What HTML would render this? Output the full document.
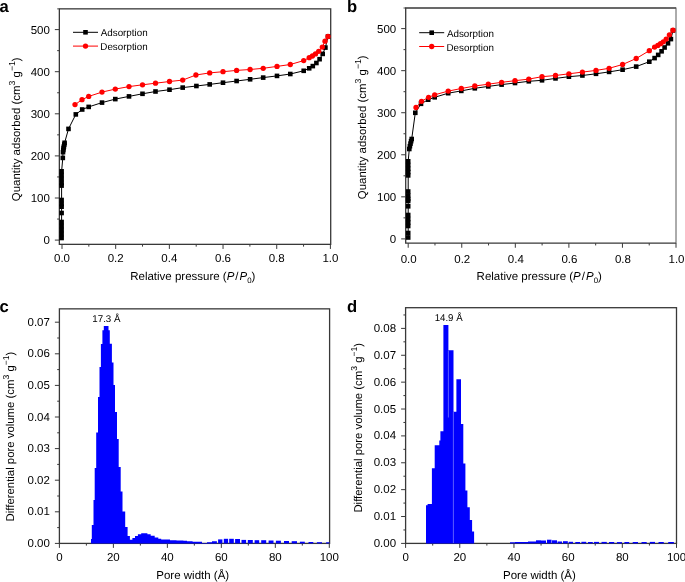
<!DOCTYPE html>
<html><head><meta charset="utf-8"><style>
html,body{margin:0;padding:0;background:#fff;}
svg{display:block;will-change:transform;}
</style></head><body>
<svg width="685" height="582" viewBox="0 0 685 582" font-family='"Liberation Sans", sans-serif' fill="#000" text-rendering="geometricPrecision"><rect width="685" height="582" fill="#fff"/><line x1="62" y1="244.35" x2="62" y2="248.95" stroke="#383838" stroke-width="1.0"/><text x="62" y="262.15" font-size="11.5" text-anchor="middle">0.0</text><line x1="88.84" y1="244.35" x2="88.84" y2="246.65" stroke="#383838" stroke-width="1.0"/><line x1="115.68" y1="244.35" x2="115.68" y2="248.95" stroke="#383838" stroke-width="1.0"/><text x="115.68" y="262.15" font-size="11.5" text-anchor="middle">0.2</text><line x1="142.52" y1="244.35" x2="142.52" y2="246.65" stroke="#383838" stroke-width="1.0"/><line x1="169.36" y1="244.35" x2="169.36" y2="248.95" stroke="#383838" stroke-width="1.0"/><text x="169.36" y="262.15" font-size="11.5" text-anchor="middle">0.4</text><line x1="196.2" y1="244.35" x2="196.2" y2="246.65" stroke="#383838" stroke-width="1.0"/><line x1="223.04" y1="244.35" x2="223.04" y2="248.95" stroke="#383838" stroke-width="1.0"/><text x="223.04" y="262.15" font-size="11.5" text-anchor="middle">0.6</text><line x1="249.88" y1="244.35" x2="249.88" y2="246.65" stroke="#383838" stroke-width="1.0"/><line x1="276.72" y1="244.35" x2="276.72" y2="248.95" stroke="#383838" stroke-width="1.0"/><text x="276.72" y="262.15" font-size="11.5" text-anchor="middle">0.8</text><line x1="303.56" y1="244.35" x2="303.56" y2="246.65" stroke="#383838" stroke-width="1.0"/><line x1="330.4" y1="244.35" x2="330.4" y2="248.95" stroke="#383838" stroke-width="1.0"/><text x="330.4" y="262.15" font-size="11.5" text-anchor="middle">1.0</text><line x1="54.85" y1="240.1" x2="59.35" y2="240.1" stroke="#383838" stroke-width="1.0"/><text x="49.85" y="244.2" font-size="11.5" text-anchor="end">0</text><line x1="57.15" y1="219.05" x2="59.35" y2="219.05" stroke="#383838" stroke-width="1.0"/><line x1="54.85" y1="198" x2="59.35" y2="198" stroke="#383838" stroke-width="1.0"/><text x="49.85" y="202.1" font-size="11.5" text-anchor="end">100</text><line x1="57.15" y1="176.95" x2="59.35" y2="176.95" stroke="#383838" stroke-width="1.0"/><line x1="54.85" y1="155.9" x2="59.35" y2="155.9" stroke="#383838" stroke-width="1.0"/><text x="49.85" y="160" font-size="11.5" text-anchor="end">200</text><line x1="57.15" y1="134.85" x2="59.35" y2="134.85" stroke="#383838" stroke-width="1.0"/><line x1="54.85" y1="113.8" x2="59.35" y2="113.8" stroke="#383838" stroke-width="1.0"/><text x="49.85" y="117.9" font-size="11.5" text-anchor="end">300</text><line x1="57.15" y1="92.75" x2="59.35" y2="92.75" stroke="#383838" stroke-width="1.0"/><line x1="54.85" y1="71.7" x2="59.35" y2="71.7" stroke="#383838" stroke-width="1.0"/><text x="49.85" y="75.8" font-size="11.5" text-anchor="end">400</text><line x1="57.15" y1="50.65" x2="59.35" y2="50.65" stroke="#383838" stroke-width="1.0"/><line x1="54.85" y1="29.6" x2="59.35" y2="29.6" stroke="#383838" stroke-width="1.0"/><text x="49.85" y="33.7" font-size="11.5" text-anchor="end">500</text><rect x="59.35" y="8.85" width="271.34999999999997" height="235.5" fill="none" stroke="#383838" stroke-width="1.3"/><line x1="57.15" y1="8.85" x2="59.35" y2="8.85" stroke="#383838" stroke-width="1.1" opacity="0.8"/><path d="M61.6,238.0 L61.6,234.0 L61.6,230.0 L61.6,226.0 L61.6,222.0 L61.6,213.0 L61.6,206.7 L61.6,204.0 L61.6,200.0 L61.6,185.6 L61.6,183.0 L61.6,179.0 L61.6,175.0 L61.6,171.3 L62.8,157.9 L63.0,152.2 L63.3,150.0 L63.6,148.0 L63.9,146.5 L64.3,144.5 L64.6,142.8 L68.5,128.9 L75.8,114.4 L82.2,109.5 L88.7,106.9 L102.0,102.6 L115.3,99.1 L129.0,96.4 L142.5,93.8 L155.5,91.5 L169.5,89.7 L182.7,87.6 L196.4,86.0 L209.7,84.4 L223.0,82.7 L236.6,81.0 L250.1,79.3 L263.2,77.6 L277.0,75.9 L290.3,74.0 L303.7,70.8 L309.2,68.3 L312.8,66.1 L316.4,63.0 L319.6,59.2 L322.7,53.9 L325.4,47.6 L328.0,36.5" fill="none" stroke="#000" stroke-width="1"/><rect x="59.30" y="235.70" width="4.6" height="4.6" fill="#000"/><rect x="59.30" y="231.70" width="4.6" height="4.6" fill="#000"/><rect x="59.30" y="227.70" width="4.6" height="4.6" fill="#000"/><rect x="59.30" y="223.70" width="4.6" height="4.6" fill="#000"/><rect x="59.30" y="219.70" width="4.6" height="4.6" fill="#000"/><rect x="59.30" y="210.70" width="4.6" height="4.6" fill="#000"/><rect x="59.30" y="204.40" width="4.6" height="4.6" fill="#000"/><rect x="59.30" y="201.70" width="4.6" height="4.6" fill="#000"/><rect x="59.30" y="197.70" width="4.6" height="4.6" fill="#000"/><rect x="59.30" y="183.30" width="4.6" height="4.6" fill="#000"/><rect x="59.30" y="180.70" width="4.6" height="4.6" fill="#000"/><rect x="59.30" y="176.70" width="4.6" height="4.6" fill="#000"/><rect x="59.30" y="172.70" width="4.6" height="4.6" fill="#000"/><rect x="59.30" y="169.00" width="4.6" height="4.6" fill="#000"/><rect x="60.50" y="155.60" width="4.6" height="4.6" fill="#000"/><rect x="60.70" y="149.90" width="4.6" height="4.6" fill="#000"/><rect x="61.00" y="147.70" width="4.6" height="4.6" fill="#000"/><rect x="61.30" y="145.70" width="4.6" height="4.6" fill="#000"/><rect x="61.60" y="144.20" width="4.6" height="4.6" fill="#000"/><rect x="62.00" y="142.20" width="4.6" height="4.6" fill="#000"/><rect x="62.30" y="140.50" width="4.6" height="4.6" fill="#000"/><rect x="66.20" y="126.60" width="4.6" height="4.6" fill="#000"/><rect x="73.50" y="112.10" width="4.6" height="4.6" fill="#000"/><rect x="79.90" y="107.20" width="4.6" height="4.6" fill="#000"/><rect x="86.40" y="104.60" width="4.6" height="4.6" fill="#000"/><rect x="99.70" y="100.30" width="4.6" height="4.6" fill="#000"/><rect x="113.00" y="96.80" width="4.6" height="4.6" fill="#000"/><rect x="126.70" y="94.10" width="4.6" height="4.6" fill="#000"/><rect x="140.20" y="91.50" width="4.6" height="4.6" fill="#000"/><rect x="153.20" y="89.20" width="4.6" height="4.6" fill="#000"/><rect x="167.20" y="87.40" width="4.6" height="4.6" fill="#000"/><rect x="180.40" y="85.30" width="4.6" height="4.6" fill="#000"/><rect x="194.10" y="83.70" width="4.6" height="4.6" fill="#000"/><rect x="207.40" y="82.10" width="4.6" height="4.6" fill="#000"/><rect x="220.70" y="80.40" width="4.6" height="4.6" fill="#000"/><rect x="234.30" y="78.70" width="4.6" height="4.6" fill="#000"/><rect x="247.80" y="77.00" width="4.6" height="4.6" fill="#000"/><rect x="260.90" y="75.30" width="4.6" height="4.6" fill="#000"/><rect x="274.70" y="73.60" width="4.6" height="4.6" fill="#000"/><rect x="288.00" y="71.70" width="4.6" height="4.6" fill="#000"/><rect x="301.40" y="68.50" width="4.6" height="4.6" fill="#000"/><rect x="306.90" y="66.00" width="4.6" height="4.6" fill="#000"/><rect x="310.50" y="63.80" width="4.6" height="4.6" fill="#000"/><rect x="314.10" y="60.70" width="4.6" height="4.6" fill="#000"/><rect x="317.30" y="56.90" width="4.6" height="4.6" fill="#000"/><rect x="320.40" y="51.60" width="4.6" height="4.6" fill="#000"/><rect x="323.10" y="45.30" width="4.6" height="4.6" fill="#000"/><rect x="325.70" y="34.20" width="4.6" height="4.6" fill="#000"/><path d="M75.0,104.6 L82.0,99.7 L88.7,96.4 L102.0,92.1 L115.3,89.1 L129.0,86.6 L142.5,84.8 L155.5,83.2 L169.5,81.5 L182.7,80.1 L195.9,75.0 L209.7,72.9 L223.0,71.7 L236.6,70.4 L250.1,69.5 L263.2,68.3 L277.0,66.4 L290.3,64.5 L303.7,60.6 L309.2,57.7 L312.4,56.0 L315.5,53.9 L318.7,51.3 L322.3,47.1 L325.0,41.2 L328.0,36.5" fill="none" stroke="#f00" stroke-width="1"/><circle cx="75.00" cy="104.60" r="2.65" fill="#f00"/><circle cx="82.00" cy="99.70" r="2.65" fill="#f00"/><circle cx="88.70" cy="96.40" r="2.65" fill="#f00"/><circle cx="102.00" cy="92.10" r="2.65" fill="#f00"/><circle cx="115.30" cy="89.10" r="2.65" fill="#f00"/><circle cx="129.00" cy="86.60" r="2.65" fill="#f00"/><circle cx="142.50" cy="84.80" r="2.65" fill="#f00"/><circle cx="155.50" cy="83.20" r="2.65" fill="#f00"/><circle cx="169.50" cy="81.50" r="2.65" fill="#f00"/><circle cx="182.70" cy="80.10" r="2.65" fill="#f00"/><circle cx="195.90" cy="75.00" r="2.65" fill="#f00"/><circle cx="209.70" cy="72.90" r="2.65" fill="#f00"/><circle cx="223.00" cy="71.70" r="2.65" fill="#f00"/><circle cx="236.60" cy="70.40" r="2.65" fill="#f00"/><circle cx="250.10" cy="69.50" r="2.65" fill="#f00"/><circle cx="263.20" cy="68.30" r="2.65" fill="#f00"/><circle cx="277.00" cy="66.40" r="2.65" fill="#f00"/><circle cx="290.30" cy="64.50" r="2.65" fill="#f00"/><circle cx="303.70" cy="60.60" r="2.65" fill="#f00"/><circle cx="309.20" cy="57.70" r="2.65" fill="#f00"/><circle cx="312.40" cy="56.00" r="2.65" fill="#f00"/><circle cx="315.50" cy="53.90" r="2.65" fill="#f00"/><circle cx="318.70" cy="51.30" r="2.65" fill="#f00"/><circle cx="322.30" cy="47.10" r="2.65" fill="#f00"/><circle cx="325.00" cy="41.20" r="2.65" fill="#f00"/><circle cx="328.00" cy="36.50" r="2.65" fill="#f00"/><line x1="73" y1="32.3" x2="98" y2="32.3" stroke="#000" stroke-width="1"/><rect x="83.2" y="29.999999999999996" width="4.6" height="4.6" fill="#000"/><text x="100.7" y="36.4" font-size="10.0" textLength="47.0" lengthAdjust="spacingAndGlyphs">Adsorption</text><line x1="73" y1="46.099999999999994" x2="98" y2="46.099999999999994" stroke="#f00" stroke-width="1"/><circle cx="85.5" cy="46.099999999999994" r="2.65" fill="#f00"/><text x="100.3" y="50.2" font-size="10.0" textLength="47.4" lengthAdjust="spacingAndGlyphs">Desorption</text><line x1="408.2" y1="243.15" x2="408.2" y2="247.75" stroke="#383838" stroke-width="1.0"/><text x="408.7" y="262.5" font-size="11.5" text-anchor="middle">0.0</text><line x1="434.98" y1="243.15" x2="434.98" y2="245.45" stroke="#383838" stroke-width="1.0"/><line x1="461.76" y1="243.15" x2="461.76" y2="247.75" stroke="#383838" stroke-width="1.0"/><text x="462.26" y="262.5" font-size="11.5" text-anchor="middle">0.2</text><line x1="488.54" y1="243.15" x2="488.54" y2="245.45" stroke="#383838" stroke-width="1.0"/><line x1="515.32" y1="243.15" x2="515.32" y2="247.75" stroke="#383838" stroke-width="1.0"/><text x="515.82" y="262.5" font-size="11.5" text-anchor="middle">0.4</text><line x1="542.1" y1="243.15" x2="542.1" y2="245.45" stroke="#383838" stroke-width="1.0"/><line x1="568.88" y1="243.15" x2="568.88" y2="247.75" stroke="#383838" stroke-width="1.0"/><text x="569.38" y="262.5" font-size="11.5" text-anchor="middle">0.6</text><line x1="595.66" y1="243.15" x2="595.66" y2="245.45" stroke="#383838" stroke-width="1.0"/><line x1="622.44" y1="243.15" x2="622.44" y2="247.75" stroke="#383838" stroke-width="1.0"/><text x="622.94" y="262.5" font-size="11.5" text-anchor="middle">0.8</text><line x1="649.22" y1="243.15" x2="649.22" y2="245.45" stroke="#383838" stroke-width="1.0"/><line x1="676" y1="243.15" x2="676" y2="247.75" stroke="#383838" stroke-width="1.0"/><text x="676.5" y="262.5" font-size="11.5" text-anchor="middle">1.0</text><line x1="401.2" y1="238.9" x2="405.7" y2="238.9" stroke="#383838" stroke-width="1.0"/><text x="396.2" y="243" font-size="11.5" text-anchor="end">0</text><line x1="403.5" y1="217.87" x2="405.7" y2="217.87" stroke="#383838" stroke-width="1.0"/><line x1="401.2" y1="196.84" x2="405.7" y2="196.84" stroke="#383838" stroke-width="1.0"/><text x="396.2" y="200.94" font-size="11.5" text-anchor="end">100</text><line x1="403.5" y1="175.81" x2="405.7" y2="175.81" stroke="#383838" stroke-width="1.0"/><line x1="401.2" y1="154.78" x2="405.7" y2="154.78" stroke="#383838" stroke-width="1.0"/><text x="396.2" y="158.88" font-size="11.5" text-anchor="end">200</text><line x1="403.5" y1="133.75" x2="405.7" y2="133.75" stroke="#383838" stroke-width="1.0"/><line x1="401.2" y1="112.72" x2="405.7" y2="112.72" stroke="#383838" stroke-width="1.0"/><text x="396.2" y="116.82" font-size="11.5" text-anchor="end">300</text><line x1="403.5" y1="91.69" x2="405.7" y2="91.69" stroke="#383838" stroke-width="1.0"/><line x1="401.2" y1="70.66" x2="405.7" y2="70.66" stroke="#383838" stroke-width="1.0"/><text x="396.2" y="74.76" font-size="11.5" text-anchor="end">400</text><line x1="403.5" y1="49.63" x2="405.7" y2="49.63" stroke="#383838" stroke-width="1.0"/><line x1="401.2" y1="28.6" x2="405.7" y2="28.6" stroke="#383838" stroke-width="1.0"/><text x="396.2" y="32.7" font-size="11.5" text-anchor="end">500</text><path d="M676.0,8.0 H405.7 V243.15 H676.0" fill="none" stroke="#383838" stroke-width="1.3"/><line x1="676.0" y1="7.5" x2="676.0" y2="243.65" stroke="#585858" stroke-width="1"/><line x1="403.5" y1="8.0" x2="405.7" y2="8.0" stroke="#383838" stroke-width="1.1" opacity="0.8"/><path d="M408.2,237.5 L408.2,233.0 L408.2,226.0 L408.2,222.5 L408.2,219.0 L408.2,215.0 L408.2,206.3 L408.2,201.0 L408.2,199.0 L408.2,195.5 L408.2,191.5 L408.2,175.4 L408.2,172.0 L408.2,168.7 L408.2,165.0 L408.2,161.3 L409.3,149.0 L409.9,146.2 L410.5,143.6 L411.1,141.2 L411.7,139.0 L415.3,112.8 L421.0,103.8 L428.2,99.7 L434.7,97.3 L448.2,93.2 L461.3,90.9 L474.8,88.3 L488.3,86.4 L501.6,84.6 L515.0,83.0 L528.8,81.3 L542.0,80.3 L555.5,78.4 L568.9,76.7 L582.4,75.5 L596.0,73.8 L609.1,71.9 L622.6,69.7 L636.2,66.6 L649.3,61.7 L654.6,58.1 L658.2,54.9 L661.6,51.3 L664.6,47.5 L668.0,43.3 L670.9,39.1 L673.0,30.5" fill="none" stroke="#000" stroke-width="1"/><rect x="405.90" y="235.20" width="4.6" height="4.6" fill="#000"/><rect x="405.90" y="230.70" width="4.6" height="4.6" fill="#000"/><rect x="405.90" y="223.70" width="4.6" height="4.6" fill="#000"/><rect x="405.90" y="220.20" width="4.6" height="4.6" fill="#000"/><rect x="405.90" y="216.70" width="4.6" height="4.6" fill="#000"/><rect x="405.90" y="212.70" width="4.6" height="4.6" fill="#000"/><rect x="405.90" y="204.00" width="4.6" height="4.6" fill="#000"/><rect x="405.90" y="198.70" width="4.6" height="4.6" fill="#000"/><rect x="405.90" y="196.70" width="4.6" height="4.6" fill="#000"/><rect x="405.90" y="193.20" width="4.6" height="4.6" fill="#000"/><rect x="405.90" y="189.20" width="4.6" height="4.6" fill="#000"/><rect x="405.90" y="173.10" width="4.6" height="4.6" fill="#000"/><rect x="405.90" y="169.70" width="4.6" height="4.6" fill="#000"/><rect x="405.90" y="166.40" width="4.6" height="4.6" fill="#000"/><rect x="405.90" y="162.70" width="4.6" height="4.6" fill="#000"/><rect x="405.90" y="159.00" width="4.6" height="4.6" fill="#000"/><rect x="407.00" y="146.70" width="4.6" height="4.6" fill="#000"/><rect x="407.60" y="143.90" width="4.6" height="4.6" fill="#000"/><rect x="408.20" y="141.30" width="4.6" height="4.6" fill="#000"/><rect x="408.80" y="138.90" width="4.6" height="4.6" fill="#000"/><rect x="409.40" y="136.70" width="4.6" height="4.6" fill="#000"/><rect x="413.00" y="110.50" width="4.6" height="4.6" fill="#000"/><rect x="418.70" y="101.50" width="4.6" height="4.6" fill="#000"/><rect x="425.90" y="97.40" width="4.6" height="4.6" fill="#000"/><rect x="432.40" y="95.00" width="4.6" height="4.6" fill="#000"/><rect x="445.90" y="90.90" width="4.6" height="4.6" fill="#000"/><rect x="459.00" y="88.60" width="4.6" height="4.6" fill="#000"/><rect x="472.50" y="86.00" width="4.6" height="4.6" fill="#000"/><rect x="486.00" y="84.10" width="4.6" height="4.6" fill="#000"/><rect x="499.30" y="82.30" width="4.6" height="4.6" fill="#000"/><rect x="512.70" y="80.70" width="4.6" height="4.6" fill="#000"/><rect x="526.50" y="79.00" width="4.6" height="4.6" fill="#000"/><rect x="539.70" y="78.00" width="4.6" height="4.6" fill="#000"/><rect x="553.20" y="76.10" width="4.6" height="4.6" fill="#000"/><rect x="566.60" y="74.40" width="4.6" height="4.6" fill="#000"/><rect x="580.10" y="73.20" width="4.6" height="4.6" fill="#000"/><rect x="593.70" y="71.50" width="4.6" height="4.6" fill="#000"/><rect x="606.80" y="69.60" width="4.6" height="4.6" fill="#000"/><rect x="620.30" y="67.40" width="4.6" height="4.6" fill="#000"/><rect x="633.90" y="64.30" width="4.6" height="4.6" fill="#000"/><rect x="647.00" y="59.40" width="4.6" height="4.6" fill="#000"/><rect x="652.30" y="55.80" width="4.6" height="4.6" fill="#000"/><rect x="655.90" y="52.60" width="4.6" height="4.6" fill="#000"/><rect x="659.30" y="49.00" width="4.6" height="4.6" fill="#000"/><rect x="662.30" y="45.20" width="4.6" height="4.6" fill="#000"/><rect x="665.70" y="41.00" width="4.6" height="4.6" fill="#000"/><rect x="668.60" y="36.80" width="4.6" height="4.6" fill="#000"/><rect x="670.70" y="28.20" width="4.6" height="4.6" fill="#000"/><path d="M416.0,107.5 L421.5,101.3 L428.6,97.3 L434.7,94.8 L448.2,91.1 L461.3,88.5 L474.8,86.0 L488.3,84.2 L501.6,82.3 L515.0,80.7 L528.8,79.1 L542.0,76.7 L555.5,75.5 L568.9,73.8 L582.4,72.1 L596.0,70.4 L609.1,68.3 L622.6,64.5 L636.2,58.5 L649.3,50.7 L654.6,47.1 L657.8,45.4 L660.5,43.7 L663.3,41.8 L666.2,39.1 L669.4,34.8 L673.0,30.2" fill="none" stroke="#f00" stroke-width="1"/><circle cx="416.00" cy="107.50" r="2.65" fill="#f00"/><circle cx="421.50" cy="101.30" r="2.65" fill="#f00"/><circle cx="428.60" cy="97.30" r="2.65" fill="#f00"/><circle cx="434.70" cy="94.80" r="2.65" fill="#f00"/><circle cx="448.20" cy="91.10" r="2.65" fill="#f00"/><circle cx="461.30" cy="88.50" r="2.65" fill="#f00"/><circle cx="474.80" cy="86.00" r="2.65" fill="#f00"/><circle cx="488.30" cy="84.20" r="2.65" fill="#f00"/><circle cx="501.60" cy="82.30" r="2.65" fill="#f00"/><circle cx="515.00" cy="80.70" r="2.65" fill="#f00"/><circle cx="528.80" cy="79.10" r="2.65" fill="#f00"/><circle cx="542.00" cy="76.70" r="2.65" fill="#f00"/><circle cx="555.50" cy="75.50" r="2.65" fill="#f00"/><circle cx="568.90" cy="73.80" r="2.65" fill="#f00"/><circle cx="582.40" cy="72.10" r="2.65" fill="#f00"/><circle cx="596.00" cy="70.40" r="2.65" fill="#f00"/><circle cx="609.10" cy="68.30" r="2.65" fill="#f00"/><circle cx="622.60" cy="64.50" r="2.65" fill="#f00"/><circle cx="636.20" cy="58.50" r="2.65" fill="#f00"/><circle cx="649.30" cy="50.70" r="2.65" fill="#f00"/><circle cx="654.60" cy="47.10" r="2.65" fill="#f00"/><circle cx="657.80" cy="45.40" r="2.65" fill="#f00"/><circle cx="660.50" cy="43.70" r="2.65" fill="#f00"/><circle cx="663.30" cy="41.80" r="2.65" fill="#f00"/><circle cx="666.20" cy="39.10" r="2.65" fill="#f00"/><circle cx="669.40" cy="34.80" r="2.65" fill="#f00"/><circle cx="673.00" cy="30.20" r="2.65" fill="#f00"/><line x1="419.2" y1="32.7" x2="444.2" y2="32.7" stroke="#000" stroke-width="1"/><rect x="429.4" y="30.400000000000002" width="4.6" height="4.6" fill="#000"/><text x="446.9" y="36.8" font-size="10.0" textLength="47.0" lengthAdjust="spacingAndGlyphs">Adsorption</text><line x1="419.2" y1="46.5" x2="444.2" y2="46.5" stroke="#f00" stroke-width="1"/><circle cx="431.7" cy="46.5" r="2.65" fill="#f00"/><text x="446.5" y="50.6" font-size="10.0" textLength="47.4" lengthAdjust="spacingAndGlyphs">Desorption</text><line x1="59.4" y1="543.4" x2="59.4" y2="547.9" stroke="#383838" stroke-width="1.0"/><text x="59.4" y="561.2" font-size="11.5" text-anchor="middle">0</text><line x1="86.39" y1="543.4" x2="86.39" y2="545.6" stroke="#383838" stroke-width="1.0"/><line x1="113.38" y1="543.4" x2="113.38" y2="547.9" stroke="#383838" stroke-width="1.0"/><text x="113.38" y="561.2" font-size="11.5" text-anchor="middle">20</text><line x1="140.37" y1="543.4" x2="140.37" y2="545.6" stroke="#383838" stroke-width="1.0"/><line x1="167.36" y1="543.4" x2="167.36" y2="547.9" stroke="#383838" stroke-width="1.0"/><text x="167.36" y="561.2" font-size="11.5" text-anchor="middle">40</text><line x1="194.35" y1="543.4" x2="194.35" y2="545.6" stroke="#383838" stroke-width="1.0"/><line x1="221.34" y1="543.4" x2="221.34" y2="547.9" stroke="#383838" stroke-width="1.0"/><text x="221.34" y="561.2" font-size="11.5" text-anchor="middle">60</text><line x1="248.33" y1="543.4" x2="248.33" y2="545.6" stroke="#383838" stroke-width="1.0"/><line x1="275.32" y1="543.4" x2="275.32" y2="547.9" stroke="#383838" stroke-width="1.0"/><text x="275.32" y="561.2" font-size="11.5" text-anchor="middle">80</text><line x1="302.31" y1="543.4" x2="302.31" y2="545.6" stroke="#383838" stroke-width="1.0"/><line x1="329.3" y1="543.4" x2="329.3" y2="547.9" stroke="#383838" stroke-width="1.0"/><text x="329.3" y="561.2" font-size="11.5" text-anchor="middle">100</text><line x1="54.9" y1="543.4" x2="59.4" y2="543.4" stroke="#383838" stroke-width="1.0"/><text x="49.9" y="546.9" font-size="11.5" text-anchor="end">0.00</text><line x1="57.2" y1="527.6" x2="59.4" y2="527.6" stroke="#383838" stroke-width="1.0"/><line x1="54.9" y1="511.8" x2="59.4" y2="511.8" stroke="#383838" stroke-width="1.0"/><text x="49.9" y="515.3" font-size="11.5" text-anchor="end">0.01</text><line x1="57.2" y1="496" x2="59.4" y2="496" stroke="#383838" stroke-width="1.0"/><line x1="54.9" y1="480.2" x2="59.4" y2="480.2" stroke="#383838" stroke-width="1.0"/><text x="49.9" y="483.7" font-size="11.5" text-anchor="end">0.02</text><line x1="57.2" y1="464.4" x2="59.4" y2="464.4" stroke="#383838" stroke-width="1.0"/><line x1="54.9" y1="448.6" x2="59.4" y2="448.6" stroke="#383838" stroke-width="1.0"/><text x="49.9" y="452.1" font-size="11.5" text-anchor="end">0.03</text><line x1="57.2" y1="432.8" x2="59.4" y2="432.8" stroke="#383838" stroke-width="1.0"/><line x1="54.9" y1="417" x2="59.4" y2="417" stroke="#383838" stroke-width="1.0"/><text x="49.9" y="420.5" font-size="11.5" text-anchor="end">0.04</text><line x1="57.2" y1="401.2" x2="59.4" y2="401.2" stroke="#383838" stroke-width="1.0"/><line x1="54.9" y1="385.4" x2="59.4" y2="385.4" stroke="#383838" stroke-width="1.0"/><text x="49.9" y="388.9" font-size="11.5" text-anchor="end">0.05</text><line x1="57.2" y1="369.6" x2="59.4" y2="369.6" stroke="#383838" stroke-width="1.0"/><line x1="54.9" y1="353.8" x2="59.4" y2="353.8" stroke="#383838" stroke-width="1.0"/><text x="49.9" y="357.3" font-size="11.5" text-anchor="end">0.06</text><line x1="57.2" y1="338" x2="59.4" y2="338" stroke="#383838" stroke-width="1.0"/><line x1="54.9" y1="322.2" x2="59.4" y2="322.2" stroke="#383838" stroke-width="1.0"/><text x="49.9" y="325.7" font-size="11.5" text-anchor="end">0.07</text><rect x="59.4" y="308.85" width="270.20000000000005" height="234.54999999999995" fill="none" stroke="#383838" stroke-width="1.3"/><path d="M91.0,543.4 H91.0 V539 H91.8 V525 H93.5 V500 H94.7 V468 H96.2 V432.5 H98 V397 H99.5 V367 H100.9 V344 H102.4 V330.3 H103.8 V326 H108.5 V330.3 H109.8 V343.8 H111.9 V362.4 H113.5 V385 H115 V412 H117 V439 H118.7 V467 H120.7 V491.5 H122.5 V511.6 H125.2 V526.9 H127.6 V536.1 H129.9 V539.7 H132.4 V537.9 H135 V536.1 H137.9 V534.2 H141.2 V533.3 H147.4 V534.2 H150.7 V535.7 H154.7 V537.5 H158.3 V538.8 H161.2 V539.6 H170 V540.2 H176.5 V540.5 H183.4 V540.8 H187 V541.2 H192.6 V541.7 H202 V543.0 H207 V542.3 H212 V541.3 H216.9 V540.5 V543.4 Z" fill="#00f"/><rect x="218.1" y="539.4" width="4.30" height="4.00" fill="#00f"/><rect x="223.8" y="538.8" width="4.30" height="4.60" fill="#00f"/><rect x="229.2" y="538.8" width="4.60" height="4.60" fill="#00f"/><rect x="235.1" y="539" width="4.90" height="4.40" fill="#00f"/><rect x="241.5" y="539.9" width="4.60" height="3.50" fill="#00f"/><rect x="247.8" y="540" width="5.00" height="3.40" fill="#00f"/><rect x="254.6" y="540.2" width="4.60" height="3.20" fill="#00f"/><rect x="261.2" y="540.2" width="5.00" height="3.20" fill="#00f"/><rect x="268.6" y="540.5" width="4.90" height="2.90" fill="#00f"/><rect x="275.9" y="540.7" width="5.00" height="2.70" fill="#00f"/><rect x="284" y="541" width="5.00" height="2.40" fill="#00f"/><rect x="291.7" y="541.2" width="5.30" height="2.20" fill="#00f"/><rect x="299.9" y="541.7" width="4.90" height="1.70" fill="#00f"/><rect x="308.5" y="542" width="4.80" height="1.40" fill="#00f"/><rect x="316.9" y="542.2" width="5.10" height="1.20" fill="#00f"/><rect x="326.1" y="542.3" width="3.30" height="1.10" fill="#00f"/><text x="92.3" y="322" font-size="9.8" textLength="28.2" lengthAdjust="spacingAndGlyphs">17.3 Å</text><line x1="405.6" y1="543.4" x2="405.6" y2="547.9" stroke="#383838" stroke-width="1.0"/><text x="405.6" y="561.2" font-size="11.5" text-anchor="middle">0</text><line x1="432.69" y1="543.4" x2="432.69" y2="545.6" stroke="#383838" stroke-width="1.0"/><line x1="459.78" y1="543.4" x2="459.78" y2="547.9" stroke="#383838" stroke-width="1.0"/><text x="459.78" y="561.2" font-size="11.5" text-anchor="middle">20</text><line x1="486.87" y1="543.4" x2="486.87" y2="545.6" stroke="#383838" stroke-width="1.0"/><line x1="513.96" y1="543.4" x2="513.96" y2="547.9" stroke="#383838" stroke-width="1.0"/><text x="513.96" y="561.2" font-size="11.5" text-anchor="middle">40</text><line x1="541.05" y1="543.4" x2="541.05" y2="545.6" stroke="#383838" stroke-width="1.0"/><line x1="568.14" y1="543.4" x2="568.14" y2="547.9" stroke="#383838" stroke-width="1.0"/><text x="568.14" y="561.2" font-size="11.5" text-anchor="middle">60</text><line x1="595.23" y1="543.4" x2="595.23" y2="545.6" stroke="#383838" stroke-width="1.0"/><line x1="622.32" y1="543.4" x2="622.32" y2="547.9" stroke="#383838" stroke-width="1.0"/><text x="622.32" y="561.2" font-size="11.5" text-anchor="middle">80</text><line x1="649.41" y1="543.4" x2="649.41" y2="545.6" stroke="#383838" stroke-width="1.0"/><line x1="676.5" y1="543.4" x2="676.5" y2="547.9" stroke="#383838" stroke-width="1.0"/><text x="676.5" y="561.2" font-size="11.5" text-anchor="middle">100</text><line x1="401.1" y1="543.4" x2="405.6" y2="543.4" stroke="#383838" stroke-width="1.0"/><text x="396.1" y="546.9" font-size="11.5" text-anchor="end">0.00</text><line x1="403.4" y1="529.96" x2="405.6" y2="529.96" stroke="#383838" stroke-width="1.0"/><line x1="401.1" y1="516.52" x2="405.6" y2="516.52" stroke="#383838" stroke-width="1.0"/><text x="396.1" y="520.02" font-size="11.5" text-anchor="end">0.01</text><line x1="403.4" y1="503.09" x2="405.6" y2="503.09" stroke="#383838" stroke-width="1.0"/><line x1="401.1" y1="489.65" x2="405.6" y2="489.65" stroke="#383838" stroke-width="1.0"/><text x="396.1" y="493.15" font-size="11.5" text-anchor="end">0.02</text><line x1="403.4" y1="476.21" x2="405.6" y2="476.21" stroke="#383838" stroke-width="1.0"/><line x1="401.1" y1="462.77" x2="405.6" y2="462.77" stroke="#383838" stroke-width="1.0"/><text x="396.1" y="466.27" font-size="11.5" text-anchor="end">0.03</text><line x1="403.4" y1="449.34" x2="405.6" y2="449.34" stroke="#383838" stroke-width="1.0"/><line x1="401.1" y1="435.9" x2="405.6" y2="435.9" stroke="#383838" stroke-width="1.0"/><text x="396.1" y="439.4" font-size="11.5" text-anchor="end">0.04</text><line x1="403.4" y1="422.46" x2="405.6" y2="422.46" stroke="#383838" stroke-width="1.0"/><line x1="401.1" y1="409.02" x2="405.6" y2="409.02" stroke="#383838" stroke-width="1.0"/><text x="396.1" y="412.52" font-size="11.5" text-anchor="end">0.05</text><line x1="403.4" y1="395.59" x2="405.6" y2="395.59" stroke="#383838" stroke-width="1.0"/><line x1="401.1" y1="382.15" x2="405.6" y2="382.15" stroke="#383838" stroke-width="1.0"/><text x="396.1" y="385.65" font-size="11.5" text-anchor="end">0.06</text><line x1="403.4" y1="368.71" x2="405.6" y2="368.71" stroke="#383838" stroke-width="1.0"/><line x1="401.1" y1="355.27" x2="405.6" y2="355.27" stroke="#383838" stroke-width="1.0"/><text x="396.1" y="358.77" font-size="11.5" text-anchor="end">0.07</text><line x1="403.4" y1="341.84" x2="405.6" y2="341.84" stroke="#383838" stroke-width="1.0"/><line x1="401.1" y1="328.4" x2="405.6" y2="328.4" stroke="#383838" stroke-width="1.0"/><text x="396.1" y="331.9" font-size="11.5" text-anchor="end">0.08</text><line x1="403.4" y1="314.96" x2="405.6" y2="314.96" stroke="#383838" stroke-width="1.0"/><rect x="405.6" y="307.7" width="270.9" height="235.7" fill="none" stroke="#383838" stroke-width="1.3"/><path d="M426.0,543.4 H426.0 V505.3 H427.6 V503.9 H431.9 V468.2 H434.7 V445.2 H439.3 V440.5 H440.4 V431.3 H443.4 V325 H448.4 V350.2 H453.5 V411.8 H456.4 V379.3 H461 V424 H463.3 V463.4 H465.4 V490.6 H467.4 V507.3 H469.8 V519.9 H472.1 V531.6 H474.1 V543.4 V543.4 Z" fill="#00f"/><line x1="448.4" y1="350.5" x2="448.4" y2="417.5" stroke="#9a9aff" stroke-width="0.6"/><line x1="453.4" y1="412" x2="453.4" y2="543" stroke="#9a9aff" stroke-width="0.6"/><rect x="510" y="542.3" width="4.50" height="1.10" fill="#00f"/><rect x="514.5" y="542" width="13.50" height="1.40" fill="#00f"/><rect x="528" y="541.5" width="8.00" height="1.90" fill="#00f"/><rect x="536" y="540.3" width="5.00" height="3.10" fill="#00f"/><rect x="541" y="540.5" width="5.00" height="2.90" fill="#00f"/><rect x="547" y="539.7" width="4.50" height="3.70" fill="#00f"/><rect x="552" y="540.3" width="5.00" height="3.10" fill="#00f"/><rect x="557.5" y="541.5" width="4.50" height="1.90" fill="#00f"/><rect x="563" y="541.2" width="4.80" height="2.20" fill="#00f"/><rect x="568.7" y="541.8" width="4.30" height="1.60" fill="#00f"/><rect x="575.3" y="542" width="4.70" height="1.40" fill="#00f"/><rect x="581.4" y="541.8" width="4.80" height="1.60" fill="#00f"/><rect x="588" y="542" width="4.80" height="1.40" fill="#00f"/><rect x="594" y="541.9" width="5.00" height="1.50" fill="#00f"/><rect x="601.5" y="541.9" width="5.30" height="1.50" fill="#00f"/><rect x="609" y="542" width="5.20" height="1.40" fill="#00f"/><rect x="616.9" y="542.1" width="5.10" height="1.30" fill="#00f"/><rect x="624.4" y="542" width="4.80" height="1.40" fill="#00f"/><rect x="632.7" y="542" width="5.30" height="1.40" fill="#00f"/><rect x="641.5" y="542" width="5.20" height="1.40" fill="#00f"/><rect x="649.8" y="541.9" width="5.20" height="1.50" fill="#00f"/><rect x="658.5" y="542" width="5.30" height="1.40" fill="#00f"/><rect x="668.2" y="542" width="5.70" height="1.40" fill="#00f"/><text x="434.7" y="320.9" font-size="10.0" textLength="27.9" lengthAdjust="spacingAndGlyphs">14.9 Å</text><text transform="translate(19.9,201.2) rotate(-90)" font-size="11.45">Quantity adsorbed (cm<tspan font-size="8.70" dy="-5.0">3</tspan><tspan dy="5.0"> g</tspan><tspan font-size="8.70" dy="-5.0">−1</tspan><tspan dy="5.0">)</tspan></text><text transform="translate(366.3,199.2) rotate(-90)" font-size="11.45">Quantity adsorbed (cm<tspan font-size="8.70" dy="-5.0">3</tspan><tspan dy="5.0"> g</tspan><tspan font-size="8.70" dy="-5.0">−1</tspan><tspan dy="5.0">)</tspan></text><text transform="translate(14.4,521.4) rotate(-90)" font-size="11.36">Differential pore volume (cm<tspan font-size="8.63" dy="-5.0">3</tspan><tspan dy="5.0"> g</tspan><tspan font-size="8.63" dy="-5.0">−1</tspan><tspan dy="5.0">)</tspan></text><text transform="translate(362.1,512.6) rotate(-90)" font-size="11.36">Differential pore volume (cm<tspan font-size="8.63" dy="-5.0">3</tspan><tspan dy="5.0"> g</tspan><tspan font-size="8.63" dy="-5.0">−1</tspan><tspan dy="5.0">)</tspan></text><text x="130.2" y="280.2" font-size="11.5">Relative pressure (<tspan font-style="italic">P</tspan><tspan dx="0.9">/</tspan><tspan dx="1.1" font-style="italic">P</tspan><tspan font-size="7.82" dy="2.6">0</tspan><tspan dy="-2.6">)</tspan></text><text x="476.6" y="280.2" font-size="11.5">Relative pressure (<tspan font-style="italic">P</tspan><tspan dx="0.9">/</tspan><tspan dx="1.1" font-style="italic">P</tspan><tspan font-size="7.82" dy="2.6">0</tspan><tspan dy="-2.6">)</tspan></text><text x="156.3" y="579.2" font-size="11.5">Pore width (Å)</text><text x="503" y="579.2" font-size="11.5">Pore width (Å)</text><text x="-0.6" y="12.3" font-size="16.6" font-weight="bold">a</text><text x="346.9" y="12.3" font-size="16.6" font-weight="bold">b</text><text x="-0.4" y="312.1" font-size="16.6" font-weight="bold">c</text><text x="346.9" y="311.9" font-size="16.6" font-weight="bold">d</text></svg>
</body></html>
